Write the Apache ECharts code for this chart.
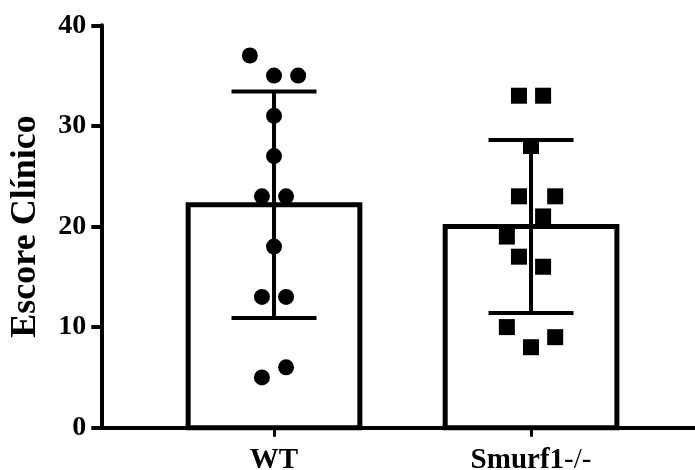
<!DOCTYPE html>
<html>
<head>
<meta charset="utf-8">
<script src="https://cdn.jsdelivr.net/npm/echarts@6/dist/echarts.min.js"></script>
<style>
  html, body { margin: 0; padding: 0; background: #fff; }
  #chart { width: 695px; height: 470px; }
</style>
</head>
<body>
<div id="chart"></div>
<script>
// Clinical score per animal, one array per genotype
const groups = ['WT', 'Smurf1-/-'];
const wtScores = [37, 35, 35, 31, 27, 23, 23, 18, 13, 13, 6, 5];
const koScores = [33, 33, 28, 23, 23, 21, 19, 17, 16, 10, 9, 8];
// Column (lane) of each point inside its group's cluster
const wtLanes = [-2, 0, 2, 0, 0, -1, 1, 0, -1, 1, 1, -1];
const koLanes = [-1, 1, 0, -1, 2, 1, -2, -1, 1, -2, 2, 0];
// Y-axis tick labels
const yTicks = [0, 10, 20, 30, 40];

const FONT = "'Liberation Serif', 'Times New Roman', serif";
const LANE = 0.047;     // lane spacing in x-axis units
const BAR_HALF = 0.334; // half bar width in x-axis units
const CAP_HALF = 42.5;  // half width of error-bar caps, px

function mean(a) { return a.reduce((s, v) => s + v, 0) / a.length; }
function sd(a) {
  const m = mean(a);
  return Math.sqrt(a.reduce((s, v) => s + (v - m) * (v - m), 0) / (a.length - 1));
}

const scoreSets = [wtScores, koScores];
const laneSets = [wtLanes, koLanes];
const means = scoreSets.map(mean);
const sds = scoreSets.map(sd);

const barData = means.map((m, i) => [i, m]);
const errData = means.map((m, i) => [i, m, m - sds[i], m + sds[i]]);
const pointData = scoreSets.map((vals, g) =>
  vals.map((v, k) => [g + laneSets[g][k] * LANE, v]));

const chart = echarts.init(document.getElementById('chart'), null, { renderer: 'canvas' });

chart.setOption({
  backgroundColor: '#fff',
  animation: false,
  grid: { left: 101.3, right: 0, top: 25.3, bottom: 42.3, outerBoundsMode: 'none', containLabel: false },
  xAxis: {
    type: 'value',
    min: -0.672,
    max: 1.638,
    splitLine: { show: false },
    axisLine: { show: true, onZero: true, lineStyle: { color: '#000', width: 4 } },
    axisTick: {
      show: true, length: 9, customValues: [0, 1],
      lineStyle: { color: '#000', width: 3 }
    },
    axisLabel: {
      show: true,
      customValues: [0, 1],
      margin: 18,
      formatter: function (v) {
        const name = groups[Math.round(v)];
        const m = name.match(/^(.*?)(-\/-)$/);
        return m ? '{b|' + m[1] + '}{n|' + m[2] + '}' : '{b|' + name + '}';
      },
      rich: {
        b: { fontFamily: FONT, fontWeight: 'bold', fontSize: 29, color: '#000' },
        n: { fontFamily: FONT, fontWeight: 'normal', fontSize: 29, color: '#000' }
      }
    }
  },
  yAxis: {
    type: 'value',
    min: yTicks[0],
    max: yTicks[yTicks.length - 1],
    interval: yTicks[1] - yTicks[0],
    name: 'Escore Clínico',
    nameLocation: 'middle',
    nameGap: 58,
    nameTextStyle: { fontFamily: FONT, fontWeight: 'bold', fontSize: 36, color: '#000' },
    splitLine: { show: false },
    axisLine: { show: true, onZero: false, lineStyle: { color: '#000', width: 4 } },
    axisTick: { show: true, length: 10, lineStyle: { color: '#000', width: 4 } },
    axisLabel: {
      margin: 15,
      fontFamily: FONT, fontWeight: 'bold', fontSize: 28, color: '#000'
    }
  },
  series: [
    {
      // open bars showing the group mean
      type: 'custom',
      data: barData,
      z: 2,
      encode: { x: 0, y: 1 },
      renderItem: function (params, api) {
        const x = api.value(0);
        const tl = api.coord([x - BAR_HALF, api.value(1)]);
        const br = api.coord([x + BAR_HALF, 0]);
        return {
          type: 'rect',
          shape: { x: tl[0], y: tl[1], width: br[0] - tl[0], height: br[1] - tl[1] },
          style: { fill: '#fff', stroke: '#000', lineWidth: 5 }
        };
      }
    },
    {
      // mean ± SD whiskers
      type: 'custom',
      data: errData,
      z: 3,
      encode: { x: 0, y: [1, 2, 3] },
      renderItem: function (params, api) {
        const x = api.value(0);
        const top = api.coord([x, api.value(3)]);
        const bot = api.coord([x, api.value(2)]);
        const style = { stroke: '#000', lineWidth: 4 };
        return {
          type: 'group',
          children: [
            { type: 'line', shape: { x1: top[0], y1: top[1], x2: bot[0], y2: bot[1] }, style: style },
            { type: 'line', shape: { x1: top[0] - CAP_HALF, y1: top[1], x2: top[0] + CAP_HALF, y2: top[1] }, style: style },
            { type: 'line', shape: { x1: bot[0] - CAP_HALF, y1: bot[1], x2: bot[0] + CAP_HALF, y2: bot[1] }, style: style }
          ]
        };
      }
    },
    {
      type: 'scatter',
      name: groups[0],
      data: pointData[0],
      symbol: 'circle',
      symbolSize: 16,
      z: 4,
      itemStyle: { color: '#000', opacity: 1 }
    },
    {
      type: 'scatter',
      name: groups[1],
      data: pointData[1],
      symbol: 'rect',
      symbolSize: 16,
      z: 4,
      itemStyle: { color: '#000', opacity: 1 }
    }
  ]
});
</script>
</body>
</html>
